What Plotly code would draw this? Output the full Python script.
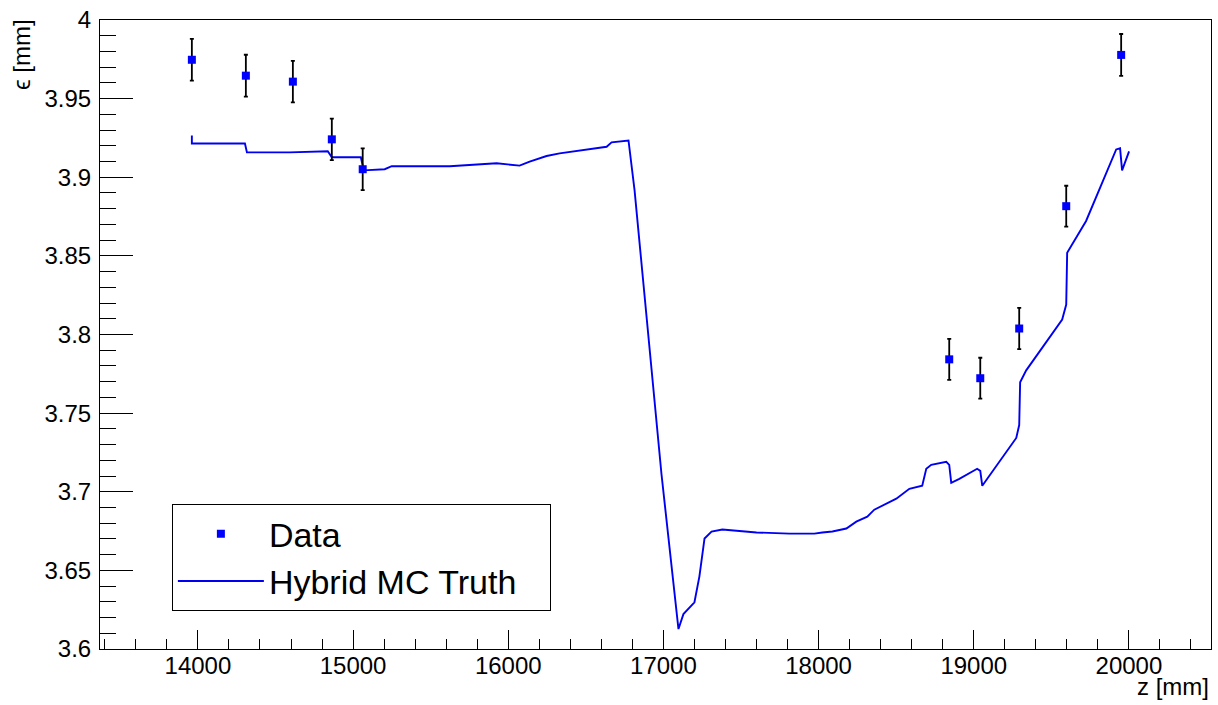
import plotly.graph_objects as go

# ---- Data points (z [mm], epsilon [mm], error) ----
data_z = [13961, 14309, 14612, 14863, 15062, 18842, 19042, 19293, 19596, 19950]
data_eps = [3.9747, 3.9646, 3.9608, 3.9241, 3.9051, 3.7842, 3.7722, 3.8038, 3.8816, 3.9778]
data_err = [0.0133, 0.0133, 0.0132, 0.0132, 0.0133, 0.0130, 0.0130, 0.0131, 0.0130, 0.0133]

# ---- Hybrid MC Truth curve ----
mc_z = [13961, 13961, 14303, 14316, 14592, 14837, 14863, 15050, 15069, 15204,
        15249, 15623, 15925, 16073, 16138, 16247, 16331, 16634, 16666, 16775,
        16814, 16930, 16988, 17097, 17123, 17129, 17200, 17232, 17265, 17310,
        17380, 17600, 17812, 17973, 18024, 18089, 18179, 18243, 18314, 18359,
        18501, 18585, 18668, 18694, 18726, 18823, 18842, 18855, 18907, 19022,
        19042, 19055, 19274, 19293, 19299, 19338, 19570, 19596, 19602, 19724,
        19918, 19943, 19956, 20001]
mc_eps = [3.9266, 3.9215, 3.9215, 3.9158, 3.9158, 3.9165, 3.9127, 3.9127, 3.9044, 3.9051,
          3.9070, 3.9070, 3.9089, 3.9074, 3.9100, 3.9135, 3.9152, 3.9194, 3.9222, 3.9234,
          3.8918, 3.7696, 3.7108, 3.6127, 3.6196, 3.6222, 3.6297, 3.6462, 3.6703, 3.6747,
          3.6760, 3.6741, 3.6734, 3.6734, 3.6741, 3.6747, 3.6766, 3.6810, 3.6842, 3.6886,
          3.6956, 3.7019, 3.7038, 3.7146, 3.7171, 3.7190, 3.7171, 3.7057, 3.7082, 3.7146,
          3.7133, 3.7038, 3.7342, 3.7424, 3.7696, 3.7772, 3.8095, 3.8190, 3.8519, 3.8722,
          3.9177, 3.9184, 3.9044, 3.9165]

x_range = [13369, 20529]
y_range = [3.6, 4.0]

FONT = "Liberation Sans, Arial, Helvetica, sans-serif"
PAD = "\u00a0\u00a0\u00a0"  # right padding inside the legend box

fig = go.Figure()

fig.add_trace(go.Scatter(
    x=mc_z, y=mc_eps, mode="lines", name="Hybrid MC Truth" + PAD,
    line=dict(color="#0000f0", width=1.9), legendrank=2,
))

fig.add_trace(go.Scatter(
    x=data_z, y=data_eps, mode="markers", name="Data",
    marker=dict(symbol="square", size=8, color="#0000ff", line=dict(width=0)),
    error_y=dict(type="data", array=data_err, visible=True,
                 color="black", thickness=1.8, width=2),
    legendrank=1,
))

fig.update_layout(
    width=1218, height=705,
    margin=dict(l=100, r=6, t=16, b=56),
    paper_bgcolor="white", plot_bgcolor="white",
    font=dict(family=FONT, size=24, color="black"),
    showlegend=True,
    legend=dict(
        x=0.0647, y=0.060, xanchor="left", yanchor="bottom",
        bordercolor="black", borderwidth=1, bgcolor="white",
        font=dict(family=FONT, size=34, color="black"),
        tracegroupgap=0, itemwidth=86,
    ),
    xaxis=dict(
        range=x_range, showgrid=False, zeroline=False,
        showline=True, mirror=True, linecolor="black", linewidth=1,
        ticks="inside", ticklen=19, tickwidth=1, tickcolor="black",
        tick0=0, dtick=1000, tickformat="d", ticklabelstandoff=-5,
        minor=dict(ticks="inside", ticklen=10, tickwidth=1, tickcolor="black", dtick=200),
        tickfont=dict(family=FONT, size=24, color="black"),
    ),
    yaxis=dict(
        range=y_range, showgrid=False, zeroline=False,
        showline=True, mirror=True, linecolor="black", linewidth=1,
        ticks="inside", ticklen=33, tickwidth=1, tickcolor="black",
        tick0=0, dtick=0.05, ticklabelstandoff=3,
        minor=dict(ticks="inside", ticklen=16, tickwidth=1, tickcolor="black", dtick=0.01),
        tickfont=dict(family=FONT, size=24, color="black"),
    ),
    annotations=[
        dict(text="z [mm]", xref="paper", yref="paper", x=1.0, y=-0.0845,
             xanchor="right", yanchor="bottom", showarrow=False,
             font=dict(family=FONT, size=24, color="black")),
        dict(text="ϵ [mm]", xref="paper", yref="paper", x=-0.070, y=0.9447,
             xanchor="center", yanchor="middle", textangle=-90, showarrow=False,
             font=dict(family=FONT, size=24, color="black")),
    ],
)

fig.write_html("out.html")
